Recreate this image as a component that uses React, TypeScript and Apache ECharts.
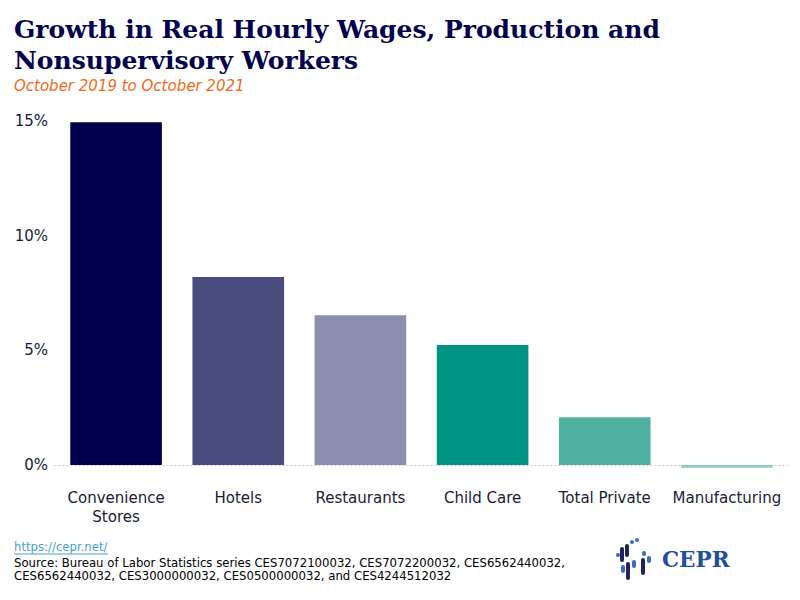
import { useEffect, useRef } from "react";
import * as echarts from "echarts";

const categories = ["Convenience\nStores", "Hotels", "Restaurants", "Child Care", "Total Private", "Manufacturing"];
const growth = [14.95, 8.2, 6.53, 5.23, 2.08, -0.12];
const barColors = ["#00004d", "#4a4c80", "#8b8ead", "#009482", "#4fb0a1", "#8fcbc0"];
const yTicks = [0, 5, 10, 15];

const title = "Growth in Real Hourly Wages, Production and\nNonsupervisory Workers";
const subtitle = "October 2019 to October 2021";
const sourceText =
  "Source: Bureau of Labor Statistics series CES7072100032, CES7072200032, CES6562440032,\nCES6562440032, CES3000000032, CES0500000032, and CES4244512032";

// logo pieces: [x, y, height, dark?]
const logoPills: [number, number, number, boolean][] = [
  [616, 553, 4, false],
  [620, 547, 15, true],
  [625, 544, 13, true],
  [630, 540, 4, false],
  [635, 538, 4, false],
  [621, 565, 8, false],
  [626, 562, 18, true],
  [632, 560, 8, false],
  [642, 551, 5, false],
  [641, 558, 17, true],
  [647, 556, 7, false],
];

export default function App() {
  const chartRef = useRef<HTMLDivElement>(null);

  useEffect(() => {
    if (!chartRef.current) return;
    const chart = echarts.init(chartRef.current, null, { renderer: "svg" });

    const option: echarts.EChartsOption = {
      animation: false,
      backgroundColor: "#ffffff",
      title: {
        text: title,
        subtext: subtitle,
        left: 14,
        top: 14,
        padding: 0,
        itemGap: 2,
        textStyle: {
          fontFamily: "DejaVu Serif",
          fontWeight: "bold",
          fontSize: 25,
          lineHeight: 31,
          color: "#00004d",
        },
        subtextStyle: {
          fontFamily: "DejaVu Sans",
          fontStyle: "italic",
          fontSize: 15,
          color: "#f26a21",
        },
      },
      grid: { left: 55, right: 12, top: 121, bottom: 135 },
      xAxis: {
        type: "category",
        data: categories,
        axisLine: { show: true, lineStyle: { color: "#cccccc", type: [1, 3], width: 1 } },
        axisTick: { show: false },
        axisLabel: {
          fontFamily: "DejaVu Sans",
          fontSize: 15,
          color: "#1a1a3a",
          lineHeight: 19,
          margin: 23,
          interval: 0,
        },
      },
      yAxis: {
        type: "value",
        min: 0,
        max: 15,
        interval: 5,
        splitLine: { show: false },
        axisLine: { show: false },
        axisTick: { show: false },
        axisLabel: {
          fontFamily: "DejaVu Sans",
          fontSize: 15,
          color: "#1a1a3a",
          margin: 7,
          formatter: (v: number) => (yTicks.includes(v) ? `${v}%` : ""),
        },
      },
      series: [
        {
          type: "bar",
          clip: false,
          barCategoryGap: "25%",
          data: growth.map((v, i) => ({ value: v, itemStyle: { color: barColors[i] } })),
        },
      ],
      graphic: [
        {
          type: "text",
          left: 14,
          top: 541,
          style: { text: "https://cepr.net/", fontFamily: "DejaVu Sans", fontSize: 11.7, fill: "#4a9fd6" },
        },
        {
          type: "line",
          shape: { x1: 14, y1: 554, x2: 108, y2: 554 },
          style: { stroke: "#4a9fd6", lineWidth: 1 },
        },
        {
          type: "text",
          left: 14,
          top: 556,
          style: { text: sourceText, fontFamily: "DejaVu Sans", fontSize: 11.7, lineHeight: 13, fill: "#000000" },
        },
        ...logoPills.map(([x, y, h, dark]) => ({
          type: "rect" as const,
          shape: { x, y, width: 4, height: h, r: 2 },
          style: { fill: dark ? "#22225e" : "#3d6bc4" },
        })),
        {
          type: "text",
          left: 662,
          top: 548,
          style: {
            text: "CEPR",
            fontFamily: "DejaVu Serif",
            fontWeight: "bold",
            fontSize: 21.5,
            fill: "#1f4f9e",
          },
        },
      ],
    };

    chart.setOption(option);
    return () => chart.dispose();
  }, []);

  return <div ref={chartRef} style={{ position: "fixed", left: 0, top: 0, width: 800, height: 600 }} />;
}
